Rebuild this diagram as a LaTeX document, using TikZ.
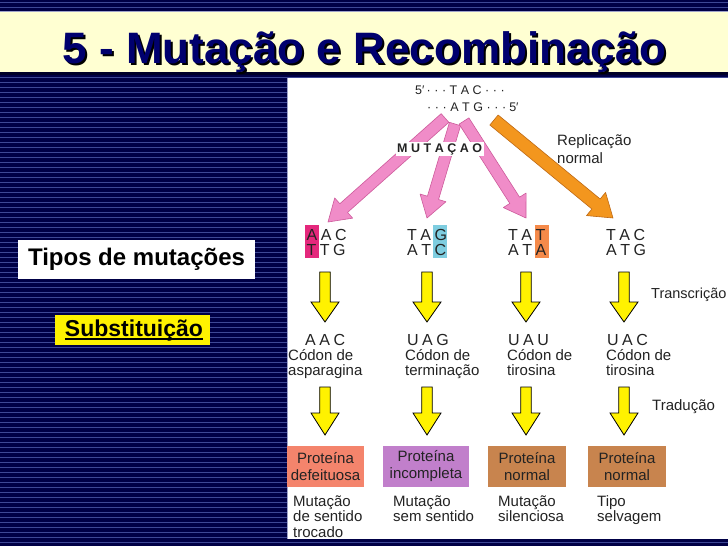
\documentclass[tikz,border=0pt]{standalone}
\usepackage{fontspec}
\setmainfont{Liberation Sans}
\usetikzlibrary{calc}
\definecolor{navy}{RGB}{0,0,70}
\definecolor{navydark}{RGB}{0,0,40}
\definecolor{stripe}{RGB}{62,72,150}
\definecolor{band}{RGB}{255,255,210}
\definecolor{titleblue}{RGB}{0,0,110}
\definecolor{pinkfill}{RGB}{240,140,200}
\definecolor{pinkline}{RGB}{205,90,155}
\definecolor{orangefill}{RGB}{243,150,30}
\definecolor{orangeline}{RGB}{190,105,20}
\definecolor{hlpink}{RGB}{228,40,124}
\definecolor{hlcyan}{RGB}{126,205,224}
\definecolor{hlorange}{RGB}{245,138,74}
\definecolor{boxsalmon}{RGB}{244,132,108}
\definecolor{boxlilac}{RGB}{193,127,203}
\definecolor{boxbrown}{RGB}{200,132,78}
\definecolor{txtgray}{RGB}{35,35,35}
\newcommand\lsp{\kern3.5pt}
\newcommand\dsp{\kern3.6pt}
\newcommand\titletext{5 - Mutação e Recombinação}
\newcommand\blockarr[6]{%
  \coordinate (bneck) at ($(#3)!#6!(#2)$);
  \path[#1] ($(#2)!#4!90:(#3)$) -- ($(bneck)!#4!-90:(#2)$) -- ($(bneck)!#5!-90:(#2)$) -- (#3) -- ($(bneck)!#5!90:(#2)$) -- ($(bneck)!#4!90:(#2)$) -- ($(#2)!#4!-90:(#3)$) -- cycle;}
\begin{document}
\begin{tikzpicture}[x=1pt,y=-1pt,
  every node/.style={inner sep=0pt},
  word/.style={font=\fontsize{15}{16}\selectfont, text=txtgray, anchor=base west},
  codon/.style={font=\fontsize{16}{16}\selectfont, text=txtgray, anchor=base west},
  strand/.style={font=\fontsize{12.5}{13}\selectfont, text=txtgray, anchor=base west},
  protbox/.style={minimum height=41, align=center, text=txtgray, font=\fontsize{15}{17}\selectfont},
  pinkarr/.style={fill=pinkfill, draw=pinkline, line width=0.6pt, line join=round},
  orangearr/.style={fill=orangefill, draw=orangeline, line width=0.6pt, line join=round},
  yellowarr/.style={fill=yellow, draw=black, line width=0.8pt, line join=miter},
  titlefont/.style={font=\fontsize{44}{48}\selectfont\bfseries, anchor=base}
]
\useasboundingbox (0,0) rectangle (728,546);
% background
\fill[navy] (0,0) rectangle (728,546);
\foreach \yy in {2,7,...,546} \draw[stripe, line width=0.6pt] (0,\yy) -- (728,\yy);
\fill[white] (287,78) rectangle (728,539);
\draw[stripe!50!white, line width=0.6pt] (287,78) -- (287,539);
\fill[band] (0,12) rectangle (728,72);
\fill[navydark] (0,72) rectangle (728,75);
\draw[stripe!50!white, line width=0.8pt] (0,11) -- (728,11);
% title with shadow
\node[titlefont, text=titleblue] (title) at (364.5,63.5) {\rlap{\kern2pt\raisebox{-2pt}{\textcolor{black}{\titletext}}}\titletext};
% left labels
\node[fill=white, minimum width=237, minimum height=39, font=\fontsize{24}{24}\selectfont\bfseries] (tipos) at (136.5,259.5) {Tipos de mutações};
\node[fill=yellow, minimum width=155, minimum height=30] (subst) at (132.5,330) {};
\node[font=\fontsize{23}{23}\selectfont\bfseries, anchor=base] (substtxt) at (134,336) {Substituição};
\draw[line width=1.5pt] ($(substtxt.base west)+(0,2.8)$) -- ($(substtxt.base east)+(0,2.8)$);
% DNA strands
\node[strand] (s5) at (415,94) {5′\kern2pt·\dsp·\dsp·\lsp T\lsp A\lsp C\lsp·\dsp·\dsp·};
\node[strand] (s3) at (427,111) {·\dsp·\dsp·\lsp A\lsp T\lsp G\lsp·\dsp·\dsp·\kern3pt 5′};
% mutation arrows
\coordinate (p1s) at (445,118); \coordinate (p1e) at (328,222);
\coordinate (p2s) at (455,124); \coordinate (p2e) at (427,218);
\coordinate (p3s) at (464,121); \coordinate (p3e) at (526,218);
\coordinate (ors) at (494,120); \coordinate (ore) at (613,218);
\blockarr{pinkarr}{p1s}{p1e}{5.8pt}{13.5pt}{21pt}
\blockarr{pinkarr}{p2s}{p2e}{5.8pt}{13.5pt}{21pt}
\blockarr{pinkarr}{p3s}{p3e}{5.8pt}{13.5pt}{21pt}
\blockarr{orangearr}{ors}{ore}{6.5pt}{15pt}{22pt}
\node[font=\fontsize{12.5}{13}\selectfont\bfseries, text=txtgray, fill=white, inner sep=1.5pt, anchor=base west] (mut) at (395.5,152) {M\lsp U\lsp T\lsp A\lsp Ç\lsp A\lsp O};
\node[word] (repl1) at (557,145) {Replicação};
\node[word] (repl2) at (557,163) {normal};
% highlights
\fill[hlpink] (305,225) rectangle (319,258);
\fill[hlcyan] (433,225) rectangle (447,258);
\fill[hlorange] (535,225) rectangle (548.5,258);
% DNA codons
\node[codon] (d1a) at (306.5,240) {A\lsp A\lsp C};
\node[codon] (d1b) at (306.5,255) {T\lsp T\lsp G};
\node[codon] (d2a) at (407,240) {T\lsp A\lsp G};
\node[codon] (d2b) at (407,255) {A\lsp T\lsp C};
\node[codon] (d3a) at (508,240) {T\lsp A\lsp T};
\node[codon] (d3b) at (508,255) {A\lsp T\lsp A};
\node[codon] (d4a) at (606,240) {T\lsp A\lsp C};
\node[codon] (d4b) at (606,255) {A\lsp T\lsp G};
% yellow arrows
\foreach \cx [count=\i] in {325,427,526,624} {
  \coordinate (ya\i) at (\cx,272); \coordinate (yb\i) at (\cx,322);
  \coordinate (yc\i) at (\cx,387); \coordinate (yd\i) at (\cx,435);
  \blockarr{yellowarr}{ya\i}{yb\i}{5.3pt}{14pt}{20pt}
  \blockarr{yellowarr}{yc\i}{yd\i}{5.3pt}{14pt}{22pt}
}
\node[word, font=\fontsize{14.5}{16}\selectfont] (transc) at (651,298) {Transcrição};
\node[word] (trad) at (652,410) {Tradução};
% RNA codons
\node[codon] (r1) at (305,345) {A\lsp A\lsp C};
\node[word] (r1b) at (288,360) {Códon de};
\node[word] (r1c) at (288,375) {asparagina};
\node[codon] (r2) at (407,345) {U\lsp A\lsp G};
\node[word] (r2b) at (405,360) {Códon de};
\node[word] (r2c) at (405,375) {terminação};
\node[codon] (r3) at (508,345) {U\lsp A\lsp U};
\node[word] (r3b) at (507,360) {Códon de};
\node[word] (r3c) at (507,375) {tirosina};
\node[codon] (r4) at (607,345) {U\lsp A\lsp C};
\node[word] (r4b) at (606,360) {Códon de};
\node[word] (r4c) at (606,375) {tirosina};
% protein boxes
\node[protbox, fill=boxsalmon, minimum width=77] (b1) at (325.5,466.5) {Proteína\\defeituosa};
\node[protbox, fill=boxlilac, minimum width=86] (b2) at (426,466.5) {Proteína\\incompleta};
\node[protbox, fill=boxbrown, minimum width=78] (b3) at (527,466.5) {Proteína\\normal};
\node[protbox, fill=boxbrown, minimum width=78] (b4) at (627,466.5) {Proteína\\normal};
% bottom labels
\node[word] (m1a) at (293,506) {Mutação};
\node[word] (m1b) at (293,521.5) {de sentido};
\node[word] (m1c) at (293,537) {trocado};
\node[word] (m2a) at (393,506) {Mutação};
\node[word] (m2b) at (393,521.5) {sem sentido};
\node[word] (m3a) at (498,506) {Mutação};
\node[word] (m3b) at (498,521.5) {silenciosa};
\node[word] (m4a) at (597,506) {Tipo};
\node[word] (m4b) at (597,521.5) {selvagem};
\end{tikzpicture}
\end{document}
